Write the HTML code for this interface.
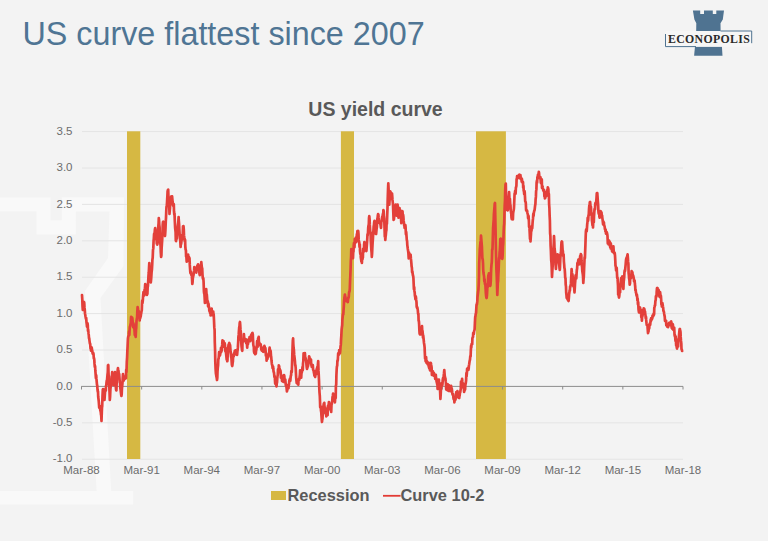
<!DOCTYPE html>
<html><head><meta charset="utf-8">
<style>
html,body{margin:0;padding:0;}
body{width:768px;height:541px;overflow:hidden;background:#f3f3f3;position:relative;font-family:"Liberation Sans",sans-serif;}
svg{position:absolute;left:0;top:0;}
</style></head><body>
<svg width="768" height="541" viewBox="0 0 768 541">
<rect x="0" y="0" width="768" height="541" fill="#f3f3f3"/>
<!-- watermark -->
<polygon points="-5,197.5 50.5,197.5 50.5,220.3 61.7,220.3 61.7,197.3 124,197.3 123.5,266 100.5,298 111.2,491 133.3,491 133.3,504.4 -5,504.4 -5,491 96.6,491 85,291 108,258 109.5,211.4 75.7,211.4 75.7,234.5 36.6,234.5 36.6,211.2 -5,211.2" fill="#f9f9f9"/>
<!-- title -->
<text x="22.5" y="44.7" font-family="Liberation Sans" font-size="32.3" fill="#4f7594">US curve flattest since 2007</text>
<!-- logo -->
<g fill="#4f7391">
<path d="M692.9 10.6 L700.2 10.6 L700.2 14.1 L704 14.1 L704 10.6 L712.8 10.6 L712.8 14.1 L716.3 14.1 L716.3 10.6 L724 10.6 L722.8 19.6 L720.5 23.2 L720.7 36 L696.1 36 L696.3 23.2 L694.4 19.6 Z"/>
<path d="M695 46.5 L721.9 46.5 L722.5 55.7 L694.1 55.7 Z"/>
</g>
<rect x="665.5" y="31" width="86.3" height="15.8" fill="#f6f6f6"/>
<path d="M665.5 34 L665.5 46.6 L696 46.6" fill="none" stroke="#4f7391" stroke-width="1"/>
<path d="M720.5 31 L751.7 31 L751.7 43.2" fill="none" stroke="#4f7391" stroke-width="1"/>
<text x="709.1" y="42.8" text-anchor="middle" font-family="Liberation Serif" font-weight="bold" font-size="11.8" letter-spacing="0.35" fill="#2a2a2a">ECONOPOLIS</text>
<!-- chart title -->
<text x="375.5" y="116" text-anchor="middle" font-family="Liberation Sans" font-weight="bold" font-size="19.5" fill="#595959">US yield curve</text>
<line x1="82" y1="131.60" x2="683" y2="131.60" stroke="#e4e4e4" stroke-width="1"/>
<line x1="82" y1="168.00" x2="683" y2="168.00" stroke="#e4e4e4" stroke-width="1"/>
<line x1="82" y1="204.40" x2="683" y2="204.40" stroke="#e4e4e4" stroke-width="1"/>
<line x1="82" y1="240.80" x2="683" y2="240.80" stroke="#e4e4e4" stroke-width="1"/>
<line x1="82" y1="277.20" x2="683" y2="277.20" stroke="#e4e4e4" stroke-width="1"/>
<line x1="82" y1="313.60" x2="683" y2="313.60" stroke="#e4e4e4" stroke-width="1"/>
<line x1="82" y1="350.00" x2="683" y2="350.00" stroke="#e4e4e4" stroke-width="1"/>
<line x1="82" y1="422.80" x2="683" y2="422.80" stroke="#e4e4e4" stroke-width="1"/>
<line x1="82" y1="459.20" x2="683" y2="459.20" stroke="#e4e4e4" stroke-width="1"/>

<!-- recession bars -->
<g fill="#d6b843">
<rect x="127" y="131.3" width="13.3" height="327.7"/>
<rect x="340.9" y="131.3" width="13.1" height="327.7"/>
<rect x="476" y="131.3" width="29.9" height="327.7"/>
</g>
<line x1="81.2" y1="386.4" x2="683" y2="386.4" stroke="#8c8c8c" stroke-width="1"/>
<line x1="81.50" y1="386.4" x2="81.50" y2="389.5" stroke="#8c8c8c" stroke-width="1"/>
<line x1="141.65" y1="386.4" x2="141.65" y2="389.5" stroke="#8c8c8c" stroke-width="1"/>
<line x1="201.80" y1="386.4" x2="201.80" y2="389.5" stroke="#8c8c8c" stroke-width="1"/>
<line x1="261.95" y1="386.4" x2="261.95" y2="389.5" stroke="#8c8c8c" stroke-width="1"/>
<line x1="322.10" y1="386.4" x2="322.10" y2="389.5" stroke="#8c8c8c" stroke-width="1"/>
<line x1="382.25" y1="386.4" x2="382.25" y2="389.5" stroke="#8c8c8c" stroke-width="1"/>
<line x1="442.40" y1="386.4" x2="442.40" y2="389.5" stroke="#8c8c8c" stroke-width="1"/>
<line x1="502.55" y1="386.4" x2="502.55" y2="389.5" stroke="#8c8c8c" stroke-width="1"/>
<line x1="562.70" y1="386.4" x2="562.70" y2="389.5" stroke="#8c8c8c" stroke-width="1"/>
<line x1="622.85" y1="386.4" x2="622.85" y2="389.5" stroke="#8c8c8c" stroke-width="1"/>
<line x1="683.00" y1="386.4" x2="683.00" y2="389.5" stroke="#8c8c8c" stroke-width="1"/>

<g font-family="Liberation Sans" font-size="11.5" fill="#6c6c6c">
<text x="72.5" y="134.80" text-anchor="end">3.5</text>
<text x="72.5" y="171.20" text-anchor="end">3.0</text>
<text x="72.5" y="207.60" text-anchor="end">2.5</text>
<text x="72.5" y="244.00" text-anchor="end">2.0</text>
<text x="72.5" y="280.40" text-anchor="end">1.5</text>
<text x="72.5" y="316.80" text-anchor="end">1.0</text>
<text x="72.5" y="353.20" text-anchor="end">0.5</text>
<text x="72.5" y="389.60" text-anchor="end">0.0</text>
<text x="72.5" y="426.00" text-anchor="end">-0.5</text>
<text x="72.5" y="462.40" text-anchor="end">-1.0</text>

<text x="81.50" y="473.8" text-anchor="middle">Mar-88</text>
<text x="141.65" y="473.8" text-anchor="middle">Mar-91</text>
<text x="201.80" y="473.8" text-anchor="middle">Mar-94</text>
<text x="261.95" y="473.8" text-anchor="middle">Mar-97</text>
<text x="322.10" y="473.8" text-anchor="middle">Mar-00</text>
<text x="382.25" y="473.8" text-anchor="middle">Mar-03</text>
<text x="442.40" y="473.8" text-anchor="middle">Mar-06</text>
<text x="502.55" y="473.8" text-anchor="middle">Mar-09</text>
<text x="562.70" y="473.8" text-anchor="middle">Mar-12</text>
<text x="622.85" y="473.8" text-anchor="middle">Mar-15</text>
<text x="683.00" y="473.8" text-anchor="middle">Mar-18</text>

</g>
<path d="M82.0 295.0 L82.3 299.5 L82.5 305.8 L82.8 310.0 L83.1 307.9 L83.4 305.3 L83.7 301.8 L84.0 302.0 L84.2 302.6 L84.5 307.7 L84.8 310.0 L85.0 313.4 L85.2 314.6 L85.5 316.5 L85.8 318.1 L86.0 319.0 L86.2 317.8 L86.5 322.4 L86.8 324.7 L87.0 326.6 L87.2 323.9 L87.5 323.2 L87.8 325.3 L88.0 331.0 L88.2 329.6 L88.5 333.4 L88.8 335.3 L89.0 338.3 L89.2 338.2 L89.5 340.9 L89.8 343.2 L90.0 344.0 L90.2 343.9 L90.5 348.5 L90.8 348.9 L91.0 350.7 L91.2 348.4 L91.5 347.3 L91.8 348.0 L92.0 350.0 L92.2 350.1 L92.5 352.8 L92.8 353.9 L93.0 353.6 L93.2 352.9 L93.5 353.9 L93.8 358.4 L94.0 358.0 L94.3 359.7 L94.5 363.4 L94.8 366.9 L95.1 366.1 L95.3 370.2 L95.6 374.0 L95.9 378.2 L96.2 375.4 L96.4 378.4 L96.7 381.5 L97.0 385.0 L97.2 385.1 L97.5 389.5 L97.8 391.8 L98.0 391.3 L98.2 396.8 L98.5 399.0 L98.8 401.9 L99.0 404.6 L99.2 407.7 L99.5 407.8 L99.8 408.1 L100.0 406.2 L100.2 409.8 L100.5 411.0 L100.8 412.4 L101.0 414.6 L101.2 415.3 L101.5 421.0 L101.8 412.1 L102.0 407.5 L102.2 406.2 L102.5 396.2 L102.8 389.7 L103.0 389.0 L103.2 389.0 L103.5 394.6 L103.8 396.6 L104.0 393.6 L104.2 391.8 L104.5 400.0 L104.8 395.2 L105.0 392.6 L105.2 389.4 L105.5 390.8 L105.8 390.6 L106.0 386.0 L106.3 385.1 L106.5 382.6 L106.8 380.5 L107.0 380.6 L107.3 377.5 L107.5 374.6 L107.8 372.1 L108.0 365.4 L108.3 365.0 L108.5 372.4 L108.8 379.4 L109.0 384.9 L109.3 385.6 L109.5 391.5 L109.8 400.0 L110.1 396.6 L110.4 389.1 L110.7 386.7 L111.0 385.0 L111.3 382.7 L111.6 376.4 L111.9 377.4 L112.2 372.0 L112.5 376.8 L112.7 378.0 L113.0 380.8 L113.2 384.2 L113.5 385.0 L113.8 384.0 L114.0 383.5 L114.2 378.6 L114.5 375.6 L114.8 375.9 L115.0 372.0 L115.3 377.4 L115.5 379.7 L115.8 386.7 L116.1 390.0 L116.4 390.4 L116.6 384.6 L116.9 378.3 L117.2 376.0 L117.5 373.3 L117.7 370.0 L118.0 368.0 L118.2 372.0 L118.5 370.6 L118.8 375.3 L119.0 373.5 L119.2 374.4 L119.5 378.6 L119.8 382.6 L120.0 382.0 L120.3 387.7 L120.6 389.7 L120.8 391.7 L121.1 394.2 L121.4 396.0 L121.7 394.0 L121.9 389.1 L122.2 385.8 L122.5 382.9 L122.7 378.4 L123.0 374.0 L123.2 376.4 L123.5 377.1 L123.8 380.6 L124.0 379.2 L124.2 377.2 L124.5 376.6 L124.8 377.3 L125.0 378.0 L125.2 378.7 L125.5 376.2 L125.8 375.9 L126.0 378.1 L126.2 369.9 L126.5 372.0 L126.8 361.6 L127.1 357.4 L127.3 352.3 L127.6 346.1 L127.9 339.0 L128.2 336.7 L128.4 336.6 L128.7 334.9 L129.0 331.6 L129.3 335.0 L129.5 331.7 L129.8 327.0 L130.1 326.5 L130.3 325.2 L130.6 323.8 L130.8 323.0 L131.1 316.9 L131.3 317.8 L131.6 320.8 L131.8 317.5 L132.1 317.6 L132.3 318.0 L132.6 320.9 L132.9 323.7 L133.2 327.2 L133.4 323.3 L133.7 325.0 L134.0 328.0 L134.3 328.1 L134.6 331.6 L134.8 335.0 L135.1 329.9 L135.4 335.6 L135.7 337.0 L136.0 329.9 L136.2 328.4 L136.5 321.1 L136.8 318.7 L137.1 317.4 L137.3 311.9 L137.6 307.0 L137.9 308.6 L138.1 310.8 L138.4 311.0 L138.7 311.1 L138.9 314.8 L139.2 316.2 L139.4 314.6 L139.7 320.4 L140.0 316.0 L140.2 318.3 L140.5 317.0 L140.8 315.8 L141.0 314.1 L141.2 313.4 L141.5 311.3 L141.8 310.2 L142.0 304.4 L142.2 300.7 L142.5 303.0 L142.8 300.6 L143.0 297.4 L143.2 294.9 L143.5 292.0 L143.8 295.1 L144.0 294.9 L144.2 295.4 L144.5 290.0 L144.8 288.8 L145.0 287.5 L145.2 284.0 L145.5 285.0 L145.8 286.7 L146.0 290.9 L146.3 288.8 L146.6 293.2 L146.9 294.9 L147.1 294.1 L147.4 294.0 L147.7 286.3 L147.9 286.3 L148.2 281.1 L148.5 275.3 L148.8 272.2 L149.0 268.4 L149.3 263.0 L149.6 270.2 L149.8 270.2 L150.1 276.4 L150.3 278.0 L150.6 281.8 L150.8 282.4 L151.1 279.3 L151.3 277.0 L151.6 272.1 L151.9 269.8 L152.2 264.6 L152.4 259.8 L152.7 257.8 L153.0 250.0 L153.3 248.4 L153.6 240.5 L153.8 239.0 L154.1 233.9 L154.4 235.3 L154.6 233.7 L154.9 229.6 L155.2 228.0 L155.5 229.6 L155.7 233.7 L156.0 235.3 L156.3 239.6 L156.6 240.1 L156.8 243.6 L157.1 243.0 L157.3 244.6 L157.6 242.9 L157.8 236.1 L158.1 234.4 L158.3 226.7 L158.6 223.1 L158.8 218.1 L159.1 221.0 L159.3 224.8 L159.6 227.2 L159.8 233.1 L160.1 237.9 L160.3 242.9 L160.6 246.5 L160.8 252.2 L161.1 257.0 L161.4 255.4 L161.6 248.8 L161.9 244.0 L162.2 240.0 L162.5 233.1 L162.7 225.0 L163.0 222.0 L163.2 221.7 L163.5 226.6 L163.8 224.5 L164.0 226.4 L164.2 231.5 L164.5 234.5 L164.8 235.2 L165.0 236.0 L165.2 233.6 L165.5 228.4 L165.8 220.8 L166.0 218.0 L166.3 210.0 L166.5 206.7 L166.8 206.2 L167.1 201.0 L167.4 195.7 L167.6 191.3 L167.9 190.0 L168.2 189.6 L168.4 195.6 L168.7 198.4 L169.0 204.9 L169.2 204.7 L169.5 214.0 L169.8 210.1 L170.0 208.0 L170.3 203.3 L170.5 205.4 L170.8 203.5 L171.0 197.7 L171.3 196.5 L171.5 197.3 L171.8 197.0 L172.1 196.3 L172.4 199.7 L172.6 201.9 L172.9 203.3 L173.2 203.8 L173.5 206.6 L173.8 204.0 L174.0 211.2 L174.3 214.7 L174.5 213.4 L174.8 220.8 L175.1 227.3 L175.3 229.5 L175.6 232.2 L175.8 240.5 L176.1 241.0 L176.3 236.9 L176.6 236.3 L176.8 238.7 L177.1 232.0 L177.3 230.7 L177.6 231.2 L177.8 226.3 L178.1 224.0 L178.3 222.3 L178.6 217.0 L178.8 220.4 L179.1 224.1 L179.3 228.7 L179.6 233.9 L179.8 236.6 L180.1 239.5 L180.3 241.2 L180.6 247.0 L180.9 243.4 L181.1 244.1 L181.4 241.9 L181.7 238.0 L181.9 235.1 L182.2 239.7 L182.4 238.0 L182.7 235.2 L183.0 226.4 L183.2 227.4 L183.5 226.0 L183.8 229.5 L184.0 235.4 L184.3 237.2 L184.6 238.5 L184.8 241.7 L185.1 239.8 L185.3 246.3 L185.6 249.5 L185.9 250.4 L186.1 256.4 L186.4 257.0 L186.7 261.7 L186.9 256.5 L187.2 255.4 L187.4 256.8 L187.7 257.3 L188.0 256.3 L188.2 254.7 L188.5 260.1 L188.7 260.6 L189.0 257.0 L189.3 258.4 L189.5 258.0 L189.8 264.9 L190.0 267.9 L190.3 272.1 L190.5 273.2 L190.8 271.3 L191.0 273.7 L191.3 275.0 L191.6 273.3 L191.8 276.0 L192.1 279.9 L192.3 284.0 L192.6 282.0 L192.8 278.4 L193.1 276.7 L193.3 275.9 L193.6 274.4 L193.8 273.0 L194.1 270.4 L194.3 267.0 L194.6 268.0 L194.8 270.6 L195.1 270.9 L195.3 271.0 L195.6 270.2 L195.8 269.9 L196.1 271.3 L196.3 272.6 L196.6 269.7 L196.9 268.2 L197.2 266.0 L197.5 265.4 L197.8 265.2 L198.1 264.3 L198.4 266.1 L198.7 265.5 L199.0 270.0 L199.2 270.7 L199.5 274.1 L199.8 275.1 L200.0 274.4 L200.2 272.8 L200.5 271.4 L200.8 266.7 L201.0 266.0 L201.3 262.2 L201.6 265.2 L201.9 268.0 L202.2 268.4 L202.5 274.8 L202.8 278.1 L203.1 279.1 L203.3 278.0 L203.6 282.2 L203.9 291.1 L204.1 293.2 L204.4 293.8 L204.6 296.9 L204.9 303.0 L205.2 299.7 L205.4 298.2 L205.7 295.3 L206.0 295.1 L206.2 289.0 L206.5 294.1 L206.8 294.5 L207.0 296.9 L207.3 301.3 L207.5 303.1 L207.8 301.0 L208.1 306.3 L208.3 303.3 L208.6 304.2 L208.8 307.0 L209.1 307.0 L209.3 310.3 L209.6 311.6 L209.8 310.5 L210.1 313.2 L210.3 311.0 L210.6 315.3 L210.9 314.7 L211.2 311.4 L211.4 310.2 L211.7 308.6 L211.9 315.2 L212.2 312.3 L212.4 313.7 L212.7 314.9 L212.9 314.0 L213.2 311.5 L213.4 313.4 L213.7 314.5 L214.0 320.2 L214.3 327.4 L214.6 330.0 L214.8 342.6 L215.1 351.0 L215.3 361.7 L215.6 369.0 L215.9 373.5 L216.2 375.0 L216.4 376.5 L216.7 377.8 L217.0 380.0 L217.3 377.9 L217.5 371.6 L217.8 367.5 L218.1 365.0 L218.3 359.1 L218.6 359.0 L218.9 355.6 L219.1 352.0 L219.4 352.4 L219.7 354.7 L220.0 355.4 L220.2 354.1 L220.5 353.0 L220.8 351.6 L221.0 347.8 L221.2 351.9 L221.5 350.7 L221.8 350.7 L222.0 346.3 L222.2 344.9 L222.5 340.3 L222.8 342.7 L223.0 342.0 L223.3 344.7 L223.5 341.2 L223.8 343.6 L224.1 346.7 L224.3 344.0 L224.6 343.0 L224.9 344.6 L225.1 346.8 L225.4 351.5 L225.7 348.1 L225.9 351.7 L226.2 354.6 L226.5 357.5 L226.7 359.6 L227.0 359.0 L227.3 361.2 L227.5 359.7 L227.8 353.2 L228.0 350.6 L228.3 347.4 L228.5 344.8 L228.8 344.6 L229.0 343.8 L229.3 343.0 L229.6 345.6 L229.8 344.3 L230.1 345.3 L230.4 349.3 L230.6 352.0 L230.9 354.2 L231.1 356.8 L231.4 357.8 L231.7 362.3 L231.9 364.8 L232.2 366.0 L232.4 365.1 L232.7 362.4 L232.9 361.4 L233.2 355.2 L233.4 355.0 L233.7 356.4 L233.9 353.3 L234.2 354.6 L234.4 354.6 L234.7 350.9 L234.9 350.7 L235.2 351.5 L235.5 350.4 L235.7 352.6 L236.0 354.3 L236.3 354.1 L236.6 352.6 L236.8 353.5 L237.1 355.0 L237.4 351.4 L237.6 350.2 L237.9 347.2 L238.2 342.1 L238.4 336.9 L238.7 334.7 L238.9 331.4 L239.2 327.5 L239.5 326.0 L239.7 323.0 L240.0 322.0 L240.2 324.7 L240.5 329.7 L240.8 332.0 L241.0 340.4 L241.2 341.1 L241.5 346.0 L241.8 348.2 L242.0 350.0 L242.3 350.8 L242.5 342.2 L242.8 340.0 L243.1 339.8 L243.4 339.2 L243.6 341.3 L243.9 334.0 L244.2 338.0 L244.4 339.8 L244.7 340.1 L244.9 341.0 L245.2 341.0 L245.4 340.1 L245.7 341.4 L245.9 339.3 L246.2 343.2 L246.4 341.1 L246.7 343.1 L246.9 344.0 L247.2 347.6 L247.4 344.4 L247.7 343.0 L248.0 344.2 L248.2 342.2 L248.5 339.3 L248.7 339.6 L249.0 340.1 L249.3 340.3 L249.5 337.1 L249.8 337.0 L250.1 339.8 L250.3 341.2 L250.6 338.3 L250.9 337.2 L251.2 335.0 L251.4 337.4 L251.7 334.2 L252.0 335.2 L252.2 333.1 L252.5 333.0 L252.8 334.3 L253.0 339.4 L253.3 344.6 L253.5 345.9 L253.8 346.7 L254.0 351.5 L254.3 353.0 L254.6 352.8 L254.8 352.4 L255.1 354.2 L255.3 354.0 L255.6 350.2 L255.8 353.6 L256.1 350.3 L256.4 349.8 L256.6 346.4 L256.9 345.5 L257.1 341.2 L257.4 345.8 L257.6 346.9 L257.9 341.9 L258.1 338.4 L258.4 341.0 L258.7 336.8 L258.9 342.4 L259.2 342.3 L259.4 343.4 L259.7 343.8 L259.9 344.8 L260.2 343.7 L260.5 345.8 L260.7 344.3 L261.0 346.6 L261.2 348.9 L261.5 350.0 L261.8 350.6 L262.0 349.7 L262.3 347.8 L262.5 348.9 L262.8 348.1 L263.1 351.7 L263.3 351.9 L263.6 350.1 L263.8 348.4 L264.1 347.1 L264.4 345.9 L264.6 346.4 L264.9 347.8 L265.1 348.9 L265.4 348.0 L265.6 350.9 L265.9 355.7 L266.1 353.2 L266.4 354.1 L266.6 360.7 L266.9 355.5 L267.1 356.2 L267.4 359.0 L267.6 357.7 L267.9 357.3 L268.1 357.2 L268.4 355.4 L268.6 355.2 L268.9 354.1 L269.1 354.5 L269.4 348.9 L269.6 347.7 L269.9 350.0 L270.2 350.1 L270.4 350.5 L270.7 351.5 L271.0 356.2 L271.2 356.8 L271.5 360.5 L271.8 363.4 L272.0 364.8 L272.3 365.0 L272.6 368.1 L272.8 368.3 L273.1 366.5 L273.3 369.0 L273.6 371.9 L273.9 372.1 L274.1 373.7 L274.4 376.8 L274.6 375.8 L274.9 379.0 L275.2 383.7 L275.4 381.9 L275.7 383.1 L275.9 383.7 L276.2 385.0 L276.5 386.4 L276.7 383.7 L277.0 382.7 L277.3 378.2 L277.5 376.4 L277.8 374.6 L278.0 369.3 L278.3 372.3 L278.6 371.8 L278.8 365.4 L279.1 366.0 L279.4 367.7 L279.6 368.6 L279.9 370.9 L280.2 372.6 L280.4 370.4 L280.7 372.5 L280.9 377.7 L281.2 376.8 L281.5 376.2 L281.7 375.9 L282.0 381.0 L282.2 375.9 L282.5 378.0 L282.8 381.4 L283.0 380.2 L283.2 378.8 L283.5 381.8 L283.8 377.3 L284.0 375.0 L284.3 375.9 L284.5 378.8 L284.8 381.0 L285.1 379.7 L285.3 379.5 L285.6 383.1 L285.8 385.5 L286.1 384.4 L286.4 386.8 L286.6 388.1 L286.9 391.5 L287.2 390.3 L287.4 389.0 L287.7 387.8 L288.0 386.1 L288.2 387.5 L288.5 388.3 L288.7 384.6 L289.0 384.6 L289.3 380.9 L289.5 380.1 L289.8 379.0 L290.1 379.6 L290.3 381.0 L290.6 377.5 L290.8 375.9 L291.1 375.2 L291.3 371.1 L291.6 371.6 L291.8 372.0 L292.1 362.2 L292.3 356.2 L292.6 346.4 L292.8 341.0 L293.1 338.4 L293.3 343.6 L293.6 348.0 L293.9 349.8 L294.2 354.9 L294.4 356.4 L294.7 359.0 L294.9 360.8 L295.2 365.3 L295.4 365.0 L295.7 368.2 L295.9 372.5 L296.2 378.0 L296.4 380.2 L296.7 383.0 L297.0 383.2 L297.2 380.9 L297.5 381.5 L297.8 384.2 L298.0 380.6 L298.3 384.6 L298.5 380.3 L298.8 379.3 L299.1 378.7 L299.3 379.9 L299.6 377.0 L299.9 374.8 L300.1 370.3 L300.4 373.1 L300.7 374.3 L300.9 374.2 L301.2 377.7 L301.4 374.1 L301.7 372.0 L302.0 371.8 L302.2 370.1 L302.5 367.0 L302.8 369.9 L303.0 363.6 L303.3 361.5 L303.6 353.4 L303.8 357.2 L304.1 355.9 L304.4 357.1 L304.6 359.3 L304.9 353.0 L305.2 357.4 L305.4 357.7 L305.7 358.3 L305.9 359.0 L306.2 360.7 L306.5 365.1 L306.7 367.1 L307.0 369.0 L307.3 367.9 L307.5 366.1 L307.8 366.7 L308.1 365.5 L308.3 363.0 L308.6 362.6 L308.9 360.2 L309.1 356.3 L309.4 357.0 L309.7 359.7 L309.9 360.5 L310.2 358.5 L310.5 361.9 L310.7 362.6 L311.0 359.5 L311.2 364.8 L311.5 365.2 L311.8 367.0 L312.0 366.9 L312.3 366.0 L312.6 367.6 L312.8 365.2 L313.1 369.5 L313.4 370.3 L313.6 370.6 L313.9 372.5 L314.1 373.4 L314.4 375.6 L314.7 375.0 L314.9 375.9 L315.2 377.0 L315.4 371.4 L315.7 371.3 L315.9 372.9 L316.2 374.3 L316.4 370.9 L316.7 369.0 L316.9 370.9 L317.2 367.3 L317.4 366.9 L317.7 368.0 L317.9 364.6 L318.2 361.0 L318.5 370.9 L318.7 374.0 L319.0 380.5 L319.2 386.3 L319.5 392.5 L319.8 395.8 L320.0 400.8 L320.2 407.3 L320.5 406.0 L320.8 406.9 L321.0 411.0 L321.2 411.5 L321.5 416.2 L321.8 420.3 L322.0 422.0 L322.2 419.8 L322.5 418.6 L322.8 412.7 L323.0 413.2 L323.2 407.8 L323.5 405.6 L323.8 403.7 L324.0 404.0 L324.3 402.9 L324.5 406.7 L324.8 407.5 L325.0 407.5 L325.3 409.8 L325.6 413.6 L325.8 412.8 L326.1 413.6 L326.3 416.3 L326.6 414.0 L326.9 414.8 L327.1 409.9 L327.4 414.2 L327.6 415.2 L327.9 406.6 L328.1 405.6 L328.4 405.3 L328.6 405.6 L328.9 402.0 L329.2 405.6 L329.4 404.9 L329.7 403.6 L329.9 405.8 L330.2 409.3 L330.5 407.4 L330.7 407.1 L331.0 409.5 L331.2 412.0 L331.5 404.8 L331.8 403.9 L332.0 401.7 L332.3 401.1 L332.5 397.1 L332.8 396.0 L333.1 393.7 L333.3 394.3 L333.6 395.4 L333.9 394.8 L334.1 396.0 L334.4 398.1 L334.6 400.2 L334.9 402.3 L335.2 398.5 L335.4 397.4 L335.7 398.0 L335.9 385.6 L336.2 384.7 L336.4 375.4 L336.7 369.0 L336.9 366.5 L337.2 365.8 L337.4 360.7 L337.7 360.8 L337.9 358.8 L338.2 353.3 L338.4 353.7 L338.7 353.0 L339.0 354.7 L339.2 350.1 L339.5 353.2 L339.7 353.5 L340.0 353.0 L340.3 350.4 L340.5 346.8 L340.8 344.9 L341.1 338.9 L341.3 336.2 L341.6 330.0 L341.9 327.2 L342.2 325.2 L342.4 319.6 L342.7 316.6 L343.0 314.0 L343.3 314.4 L343.5 310.9 L343.8 306.6 L344.1 301.0 L344.4 297.6 L344.6 296.4 L344.9 294.5 L345.2 296.6 L345.4 297.4 L345.7 298.4 L346.0 298.1 L346.2 301.0 L346.5 299.4 L346.7 298.6 L347.0 301.4 L347.3 301.5 L347.5 301.2 L347.8 302.0 L348.1 299.2 L348.3 297.6 L348.6 297.8 L348.8 296.5 L349.1 292.0 L349.3 292.2 L349.6 290.9 L349.8 289.0 L350.1 280.5 L350.3 276.3 L350.6 268.8 L350.8 261.5 L351.1 256.9 L351.3 249.0 L351.6 253.8 L351.9 252.4 L352.1 254.8 L352.4 254.1 L352.7 257.0 L353.0 258.2 L353.2 252.4 L353.5 251.5 L353.7 246.0 L354.0 243.0 L354.3 244.1 L354.5 247.2 L354.8 238.9 L355.0 238.7 L355.3 240.2 L355.6 239.5 L355.8 237.7 L356.1 242.2 L356.3 240.0 L356.6 237.5 L356.9 234.1 L357.1 235.9 L357.4 231.1 L357.7 233.9 L357.9 231.3 L358.2 231.0 L358.5 234.1 L358.7 239.9 L359.0 242.1 L359.2 241.8 L359.5 247.0 L359.8 244.4 L360.0 250.7 L360.3 253.9 L360.6 253.3 L360.8 257.2 L361.1 259.3 L361.4 261.6 L361.6 257.8 L361.9 263.0 L362.1 258.6 L362.4 259.4 L362.6 258.5 L362.9 257.3 L363.1 248.9 L363.4 248.9 L363.6 248.6 L363.9 251.4 L364.1 244.8 L364.4 242.0 L364.6 242.8 L364.9 244.2 L365.1 247.1 L365.4 246.5 L365.6 249.9 L365.9 248.3 L366.1 250.2 L366.4 251.0 L366.7 246.9 L366.9 244.5 L367.2 240.0 L367.5 234.4 L367.7 235.3 L368.0 232.6 L368.2 228.0 L368.5 225.6 L368.8 224.4 L369.0 218.2 L369.3 216.0 L369.6 219.4 L369.8 224.9 L370.1 229.7 L370.3 232.4 L370.6 232.3 L370.8 241.0 L371.1 245.6 L371.3 249.3 L371.6 252.6 L371.8 257.0 L372.1 253.5 L372.3 248.6 L372.6 242.9 L372.9 238.8 L373.1 235.0 L373.4 231.2 L373.7 226.2 L373.9 225.4 L374.2 222.0 L374.5 220.8 L374.7 225.3 L375.0 225.1 L375.3 228.5 L375.6 233.1 L375.8 234.0 L376.1 234.0 L376.4 230.9 L376.6 228.8 L376.9 226.7 L377.1 220.6 L377.4 218.6 L377.6 217.9 L377.9 215.0 L378.1 214.0 L378.4 214.7 L378.6 217.7 L378.9 219.9 L379.2 222.0 L379.4 223.0 L379.7 222.4 L379.9 223.2 L380.2 223.8 L380.5 224.6 L380.7 226.0 L381.0 228.0 L381.3 222.2 L381.5 221.4 L381.8 220.7 L382.1 217.4 L382.3 216.6 L382.6 216.4 L382.9 213.8 L383.1 216.1 L383.4 210.0 L383.7 211.1 L383.9 216.6 L384.2 218.2 L384.5 226.8 L384.8 236.6 L385.0 233.3 L385.3 240.0 L385.6 236.4 L385.8 235.2 L386.1 231.7 L386.4 230.3 L386.6 222.7 L386.9 224.0 L387.2 215.6 L387.5 208.3 L387.7 199.9 L388.0 190.4 L388.3 183.3 L388.6 189.4 L388.8 193.4 L389.1 199.4 L389.3 204.6 L389.6 199.4 L389.9 191.0 L390.2 191.7 L390.5 191.6 L390.8 195.7 L391.1 199.0 L391.4 198.2 L391.7 194.1 L392.0 193.5 L392.2 195.6 L392.5 199.9 L392.8 202.6 L393.0 204.6 L393.3 212.4 L393.6 219.9 L393.9 219.4 L394.2 216.5 L394.5 208.4 L394.8 208.0 L395.1 206.9 L395.4 208.8 L395.7 204.6 L395.9 210.8 L396.2 213.5 L396.4 213.3 L396.7 215.7 L397.0 210.8 L397.3 209.5 L397.6 204.6 L397.9 207.7 L398.2 209.0 L398.5 217.6 L398.8 211.1 L399.0 215.7 L399.2 215.7 L399.5 208.0 L399.8 210.6 L400.1 209.8 L400.4 212.0 L400.7 215.8 L401.0 217.9 L401.3 223.1 L401.6 221.3 L401.9 216.5 L402.2 212.0 L402.5 211.2 L402.8 215.6 L403.1 214.8 L403.4 217.0 L403.6 220.2 L403.9 222.6 L404.1 225.0 L404.4 225.8 L404.6 228.0 L404.9 227.8 L405.1 226.0 L405.4 225.1 L405.6 227.2 L405.9 234.3 L406.2 231.8 L406.5 235.8 L406.8 240.0 L407.1 241.2 L407.3 245.1 L407.6 247.3 L407.8 249.0 L408.1 250.8 L408.4 253.1 L408.7 258.3 L409.0 252.5 L409.2 254.3 L409.5 256.2 L409.8 257.0 L410.1 255.8 L410.3 254.9 L410.6 254.6 L410.9 258.7 L411.1 260.3 L411.4 263.7 L411.6 266.3 L411.9 268.0 L412.1 272.3 L412.4 271.3 L412.7 274.1 L412.9 275.3 L413.2 276.2 L413.4 277.8 L413.7 284.4 L413.9 289.2 L414.2 287.0 L414.4 290.9 L414.7 292.5 L414.9 295.4 L415.2 296.9 L415.4 299.2 L415.7 296.3 L415.9 296.9 L416.2 300.0 L416.5 302.1 L416.7 306.9 L417.0 307.7 L417.3 307.1 L417.6 308.9 L417.8 310.1 L418.1 314.0 L418.4 313.8 L418.6 320.7 L418.9 321.1 L419.1 323.8 L419.4 330.7 L419.6 333.5 L419.9 334.4 L420.1 334.0 L420.4 333.1 L420.6 332.7 L420.9 334.3 L421.2 332.5 L421.5 332.4 L421.7 329.4 L422.0 326.0 L422.2 330.3 L422.5 330.9 L422.8 333.6 L423.0 337.7 L423.2 335.4 L423.5 338.0 L423.8 341.0 L424.0 343.0 L424.3 344.7 L424.6 347.4 L424.8 352.4 L425.1 358.7 L425.4 357.0 L425.6 361.2 L425.9 360.7 L426.1 357.1 L426.4 362.6 L426.6 361.9 L426.9 361.0 L427.3 363.0 L427.6 364.3 L427.8 362.3 L428.1 363.8 L428.3 362.7 L428.6 364.8 L428.8 366.9 L429.1 367.4 L429.3 368.5 L429.6 367.0 L429.8 369.0 L430.1 370.4 L430.4 367.2 L430.7 362.9 L431.0 363.6 L431.2 365.0 L431.6 367.3 L431.9 375.0 L432.1 371.4 L432.4 372.1 L432.6 373.6 L432.9 371.3 L433.1 372.1 L433.4 375.5 L433.6 375.6 L433.9 373.0 L434.2 374.8 L434.4 375.5 L434.7 375.9 L435.0 376.6 L435.2 379.0 L435.5 379.0 L435.8 374.9 L436.0 378.0 L436.3 378.3 L436.6 382.0 L436.8 381.8 L437.1 384.0 L437.4 384.0 L437.6 388.9 L437.9 385.1 L438.1 383.2 L438.4 381.9 L438.6 379.5 L438.9 379.5 L439.1 387.0 L439.4 386.6 L439.6 389.1 L439.9 389.1 L440.1 391.1 L440.4 399.0 L440.7 394.3 L440.9 390.3 L441.2 387.5 L441.4 385.9 L441.7 383.0 L442.0 384.3 L442.2 385.6 L442.5 383.7 L442.7 380.4 L443.0 378.2 L443.3 379.6 L443.5 379.0 L443.8 374.5 L444.0 373.2 L444.3 370.0 L444.6 374.3 L444.8 376.4 L445.1 377.8 L445.4 378.2 L445.7 381.4 L445.9 382.4 L446.2 389.5 L446.5 389.3 L446.7 389.8 L447.0 386.3 L447.2 389.6 L447.5 390.0 L447.8 384.3 L448.0 388.8 L448.3 388.7 L448.5 391.0 L448.8 385.0 L449.1 385.9 L449.3 387.4 L449.6 388.3 L449.8 388.5 L450.1 388.9 L450.4 391.2 L450.6 387.5 L450.9 386.5 L451.1 385.9 L451.4 391.0 L451.7 388.3 L451.9 389.5 L452.2 392.4 L452.4 393.9 L452.7 394.6 L452.9 393.9 L453.2 394.3 L453.4 397.7 L453.7 399.3 L453.9 399.2 L454.2 398.6 L454.4 402.4 L454.7 400.0 L455.0 399.2 L455.2 399.2 L455.5 399.6 L455.8 396.4 L456.1 396.4 L456.3 392.0 L456.6 392.0 L456.9 394.0 L457.1 394.3 L457.4 391.2 L457.6 394.4 L457.9 393.2 L458.2 397.3 L458.4 395.7 L458.7 396.2 L458.9 397.7 L459.2 398.0 L459.5 395.9 L459.7 395.1 L460.0 392.2 L460.2 392.5 L460.5 390.4 L460.8 389.0 L461.0 381.6 L461.3 384.9 L461.5 383.5 L461.8 382.0 L462.1 378.9 L462.3 381.4 L462.6 383.6 L462.8 386.2 L463.1 383.4 L463.3 387.6 L463.6 386.5 L463.8 386.0 L464.1 392.0 L464.3 389.7 L464.6 390.6 L464.8 389.3 L465.1 389.5 L465.4 384.2 L465.6 384.1 L465.9 382.0 L466.1 380.6 L466.4 373.0 L466.6 376.5 L466.9 373.0 L467.1 368.9 L467.4 368.7 L467.6 368.4 L467.9 367.8 L468.1 370.0 L468.4 370.0 L468.7 368.5 L468.9 365.7 L469.2 364.2 L469.5 361.8 L469.8 360.3 L470.0 359.7 L470.3 356.0 L470.6 356.4 L470.8 351.2 L471.1 345.8 L471.3 347.7 L471.6 344.0 L471.9 343.7 L472.2 344.2 L472.4 338.3 L472.7 337.4 L473.0 337.0 L473.2 333.2 L473.5 332.6 L473.8 334.0 L474.1 331.3 L474.3 330.5 L474.6 329.7 L474.9 323.0 L475.2 317.1 L475.4 316.6 L475.7 314.0 L476.0 313.3 L476.2 310.4 L476.5 304.7 L476.8 304.8 L477.0 303.7 L477.3 301.4 L477.5 297.0 L477.8 294.5 L478.1 292.0 L478.4 290.1 L478.7 285.0 L479.0 276.0 L479.2 263.5 L479.5 257.1 L479.8 249.5 L480.1 246.3 L480.4 242.7 L480.7 240.9 L481.0 235.5 L481.3 239.2 L481.6 243.1 L481.9 246.5 L482.1 251.9 L482.4 258.7 L482.7 259.0 L483.0 263.1 L483.2 269.5 L483.5 273.0 L483.8 274.7 L484.1 276.6 L484.3 281.3 L484.6 279.0 L484.9 283.6 L485.1 284.6 L485.4 284.4 L485.6 288.6 L485.9 293.6 L486.1 295.7 L486.4 297.7 L486.6 298.0 L486.9 295.8 L487.1 292.9 L487.4 286.9 L487.6 287.3 L487.9 283.2 L488.1 278.3 L488.4 275.2 L488.6 275.0 L488.9 273.4 L489.1 278.1 L489.4 281.5 L489.7 279.1 L490.0 283.2 L490.2 285.9 L490.5 285.0 L490.8 280.6 L491.0 273.1 L491.2 268.7 L491.5 264.5 L491.8 262.1 L492.0 257.3 L492.2 249.3 L492.5 249.5 L492.8 239.0 L493.1 228.3 L493.4 223.6 L493.7 220.0 L493.9 214.2 L494.2 210.7 L494.5 206.8 L494.7 203.8 L495.0 203.0 L495.3 217.5 L495.6 231.8 L495.8 245.0 L496.1 257.6 L496.4 269.0 L496.7 275.5 L497.0 284.2 L497.3 295.0 L497.6 288.3 L497.8 283.0 L498.1 281.0 L498.3 275.3 L498.6 270.2 L498.8 264.8 L499.1 257.8 L499.3 259.0 L499.6 252.3 L499.8 250.8 L500.1 245.3 L500.3 239.0 L500.6 240.5 L500.8 238.6 L501.1 244.8 L501.4 251.4 L501.7 254.2 L501.9 258.4 L502.2 258.8 L502.4 258.5 L502.7 254.3 L502.9 246.9 L503.2 243.9 L503.4 239.7 L503.7 230.8 L503.9 226.4 L504.2 223.6 L504.5 212.1 L504.7 205.9 L505.0 200.3 L505.2 190.3 L505.5 184.5 L505.8 183.6 L506.0 193.0 L506.3 198.0 L506.6 204.8 L506.8 204.8 L507.1 210.0 L507.4 209.4 L507.6 210.5 L507.9 209.7 L508.1 203.8 L508.4 200.7 L508.6 197.2 L508.9 196.6 L509.1 192.0 L509.4 198.1 L509.6 199.5 L509.9 198.8 L510.2 204.0 L510.5 205.6 L510.7 210.1 L511.0 212.0 L511.3 214.0 L511.5 217.7 L511.8 219.1 L512.1 217.2 L512.3 218.3 L512.6 218.0 L512.9 219.5 L513.1 213.7 L513.4 211.4 L513.6 210.4 L513.9 208.7 L514.1 205.1 L514.4 198.2 L514.6 193.6 L514.9 194.0 L515.1 191.1 L515.4 190.5 L515.6 193.6 L515.9 187.4 L516.1 187.3 L516.4 185.7 L516.6 179.0 L516.9 179.0 L517.1 176.1 L517.4 177.5 L517.6 176.7 L517.9 176.8 L518.1 178.0 L518.4 175.9 L518.6 177.2 L518.9 175.6 L519.1 174.8 L519.4 176.4 L519.6 174.8 L519.9 175.6 L520.1 178.5 L520.4 175.0 L520.7 177.6 L520.9 177.3 L521.2 179.4 L521.4 178.7 L521.7 181.7 L521.9 178.9 L522.2 181.7 L522.4 181.3 L522.7 183.0 L523.0 182.1 L523.2 187.8 L523.5 185.9 L523.7 190.8 L524.0 191.6 L524.2 194.1 L524.5 191.1 L524.7 192.0 L525.0 197.1 L525.2 201.3 L525.5 201.6 L525.8 203.0 L526.1 210.1 L526.3 210.4 L526.6 210.0 L526.9 211.4 L527.1 210.6 L527.4 212.7 L527.6 213.9 L527.9 214.5 L528.1 218.3 L528.4 216.5 L528.6 216.0 L528.9 221.2 L529.1 227.0 L529.4 226.8 L529.7 232.6 L530.0 238.9 L530.2 237.5 L530.5 241.5 L530.8 236.9 L531.0 233.9 L531.2 229.6 L531.5 231.0 L531.8 226.0 L532.0 227.1 L532.2 228.4 L532.5 224.0 L532.8 220.1 L533.0 218.7 L533.3 213.9 L533.6 215.9 L533.8 213.0 L534.1 211.6 L534.3 210.6 L534.6 210.2 L534.9 207.3 L535.1 205.7 L535.4 204.0 L535.6 199.5 L535.9 196.9 L536.1 191.4 L536.4 189.4 L536.6 182.7 L536.9 180.6 L537.1 182.6 L537.4 177.0 L537.7 178.1 L537.9 174.8 L538.2 176.1 L538.5 174.3 L538.8 171.9 L539.0 172.5 L539.3 176.0 L539.5 176.5 L539.8 178.3 L540.0 178.7 L540.3 177.7 L540.5 177.3 L540.8 182.4 L541.0 183.2 L541.3 181.6 L541.5 179.0 L541.8 179.6 L542.0 188.0 L542.3 186.5 L542.6 186.4 L542.8 187.9 L543.1 189.7 L543.4 190.4 L543.6 191.0 L543.9 189.7 L544.1 190.2 L544.4 196.4 L544.7 195.2 L544.9 198.3 L545.2 198.0 L545.5 194.4 L545.7 194.3 L546.0 194.8 L546.3 196.2 L546.5 192.1 L546.8 193.1 L547.0 192.7 L547.3 189.8 L547.6 190.3 L547.8 187.4 L548.1 188.0 L548.4 189.6 L548.6 194.8 L548.9 194.0 L549.1 204.0 L549.4 208.0 L549.6 214.9 L549.9 221.0 L550.1 233.0 L550.4 236.1 L550.6 245.5 L550.9 251.0 L551.2 260.2 L551.5 263.2 L551.7 267.5 L552.0 277.0 L552.2 273.3 L552.5 268.3 L552.8 264.3 L553.0 256.2 L553.2 252.8 L553.5 247.5 L553.8 243.0 L554.0 236.0 L554.3 241.7 L554.5 248.3 L554.8 250.3 L555.1 253.0 L555.4 255.7 L555.6 264.7 L555.9 269.0 L556.1 266.0 L556.4 262.8 L556.6 260.5 L556.9 259.5 L557.1 256.5 L557.4 256.0 L557.6 254.3 L557.9 255.0 L558.2 254.8 L558.4 256.2 L558.7 260.0 L559.0 261.9 L559.3 265.1 L559.5 268.1 L559.8 270.0 L560.0 267.2 L560.3 258.9 L560.5 256.2 L560.8 252.6 L561.0 252.2 L561.3 245.5 L561.5 242.1 L561.8 241.5 L562.1 241.9 L562.3 244.8 L562.6 250.1 L562.9 251.2 L563.1 255.8 L563.4 254.5 L563.6 254.4 L563.9 261.6 L564.2 264.9 L564.4 267.9 L564.7 269.0 L565.0 273.6 L565.2 277.7 L565.5 278.2 L565.7 284.5 L566.0 286.6 L566.2 292.5 L566.5 295.4 L566.7 298.0 L567.0 295.0 L567.2 294.6 L567.5 299.4 L567.8 299.5 L568.1 299.2 L568.3 300.6 L568.6 301.0 L568.9 297.5 L569.1 294.2 L569.4 292.5 L569.6 290.3 L569.9 290.7 L570.1 286.6 L570.4 286.9 L570.6 285.6 L570.9 283.4 L571.1 279.6 L571.4 274.6 L571.6 269.0 L571.9 272.9 L572.1 273.9 L572.4 274.2 L572.7 276.8 L572.9 278.0 L573.2 284.3 L573.4 286.3 L573.7 286.3 L574.0 284.5 L574.2 288.4 L574.5 292.5 L574.8 288.0 L575.0 284.1 L575.3 280.6 L575.6 275.4 L575.8 277.0 L576.1 275.2 L576.3 278.3 L576.6 273.3 L576.9 269.2 L577.1 269.0 L577.4 263.0 L577.6 264.4 L577.9 263.3 L578.1 261.4 L578.4 259.7 L578.6 262.9 L578.9 263.2 L579.1 264.5 L579.4 259.0 L579.7 260.2 L579.9 258.8 L580.2 256.0 L580.5 258.0 L580.8 254.0 L581.0 255.6 L581.3 255.0 L581.5 260.7 L581.8 265.9 L582.0 265.6 L582.3 271.2 L582.5 272.2 L582.8 274.3 L583.0 276.0 L583.3 283.0 L583.6 278.7 L583.8 276.9 L584.1 269.0 L584.4 262.3 L584.6 257.4 L584.9 258.2 L585.1 253.1 L585.4 245.1 L585.7 236.1 L585.9 231.5 L586.2 229.5 L586.5 229.2 L586.7 231.3 L587.0 227.5 L587.2 224.2 L587.5 222.2 L587.7 217.9 L588.0 220.8 L588.2 220.0 L588.5 215.1 L588.7 215.8 L589.0 209.3 L589.3 205.7 L589.6 205.7 L589.8 202.3 L590.1 202.0 L590.4 204.8 L590.6 206.9 L590.9 206.7 L591.2 211.4 L591.4 215.3 L591.7 213.0 L591.9 220.4 L592.2 222.6 L592.5 225.4 L592.7 222.7 L593.0 227.5 L593.2 222.7 L593.5 221.2 L593.8 222.2 L594.0 216.5 L594.2 213.8 L594.5 209.0 L594.8 209.2 L595.0 209.3 L595.2 204.3 L595.5 202.8 L595.8 203.3 L596.0 204.5 L596.2 202.2 L596.5 198.1 L596.8 193.2 L597.0 193.0 L597.3 193.1 L597.5 196.2 L597.8 200.9 L598.1 204.4 L598.4 211.0 L598.6 213.1 L598.9 214.0 L599.2 213.1 L599.4 216.9 L599.7 217.7 L600.0 216.5 L600.2 214.4 L600.5 211.1 L600.7 211.2 L601.0 215.3 L601.3 213.9 L601.5 212.3 L601.8 216.0 L602.1 215.5 L602.3 217.6 L602.6 219.8 L602.8 221.5 L603.1 224.3 L603.4 221.6 L603.6 224.4 L603.9 222.3 L604.1 225.0 L604.4 225.8 L604.7 226.8 L604.9 229.2 L605.2 228.9 L605.4 231.4 L605.7 229.5 L606.0 233.7 L606.2 233.4 L606.5 232.4 L606.7 232.1 L607.0 232.9 L607.3 234.5 L607.5 236.1 L607.8 243.5 L608.0 243.0 L608.3 240.0 L608.6 244.3 L608.8 241.5 L609.1 240.7 L609.3 241.4 L609.6 243.2 L609.8 241.9 L610.1 247.0 L610.3 245.5 L610.6 248.4 L610.8 243.3 L611.1 245.8 L611.3 248.0 L611.6 249.0 L611.9 249.7 L612.1 251.3 L612.4 251.7 L612.6 251.9 L612.9 248.2 L613.2 248.9 L613.4 246.3 L613.7 251.1 L614.0 253.2 L614.2 253.5 L614.5 252.6 L614.7 252.9 L615.0 255.5 L615.3 260.9 L615.5 265.9 L615.8 266.2 L616.1 270.5 L616.4 268.2 L616.7 267.8 L616.9 272.0 L617.2 278.0 L617.5 277.4 L617.7 280.8 L618.0 285.4 L618.2 294.7 L618.5 293.4 L618.7 295.6 L619.0 297.6 L619.3 296.1 L619.5 293.1 L619.8 292.3 L620.1 292.4 L620.4 285.2 L620.7 283.1 L620.9 280.0 L621.2 278.0 L621.5 279.9 L621.8 277.9 L622.0 277.2 L622.3 276.4 L622.6 282.4 L622.9 285.4 L623.1 287.3 L623.4 289.0 L623.7 281.2 L623.9 280.0 L624.2 277.2 L624.4 273.0 L624.7 270.5 L625.0 271.0 L625.2 269.5 L625.5 266.1 L625.7 264.1 L626.0 260.0 L626.3 258.5 L626.5 258.0 L626.8 257.2 L627.1 257.4 L627.3 255.7 L627.6 254.4 L627.9 258.0 L628.1 261.4 L628.4 263.9 L628.6 272.8 L628.9 275.6 L629.1 278.7 L629.4 280.0 L629.7 284.6 L630.0 283.4 L630.2 276.3 L630.5 276.8 L630.8 276.7 L631.0 278.2 L631.3 277.2 L631.6 271.0 L631.9 276.1 L632.1 272.7 L632.4 272.1 L632.6 274.6 L632.9 276.8 L633.1 275.4 L633.4 276.4 L633.6 277.4 L633.9 279.3 L634.1 281.3 L634.4 281.6 L634.6 280.3 L634.9 284.0 L635.2 286.5 L635.4 290.5 L635.7 289.8 L635.9 292.4 L636.2 293.3 L636.4 294.8 L636.7 295.9 L636.9 294.7 L637.2 297.4 L637.4 300.3 L637.7 298.7 L637.9 304.3 L638.2 302.0 L638.5 309.0 L638.7 310.7 L639.0 312.4 L639.2 311.3 L639.5 309.0 L639.8 307.9 L640.0 307.5 L640.3 309.6 L640.6 310.9 L640.8 313.5 L641.1 309.9 L641.3 317.3 L641.6 315.4 L641.9 320.7 L642.1 317.0 L642.4 316.2 L642.6 315.1 L642.9 313.8 L643.2 311.8 L643.4 310.7 L643.7 308.4 L643.9 308.9 L644.2 308.7 L644.5 309.8 L644.7 312.0 L645.0 311.4 L645.2 313.6 L645.5 315.4 L645.7 318.2 L646.0 316.9 L646.2 319.9 L646.5 323.2 L646.7 324.8 L647.0 324.4 L647.2 324.6 L647.5 325.9 L647.7 329.2 L648.0 333.2 L648.2 331.0 L648.5 331.6 L648.7 328.8 L649.0 328.9 L649.2 328.3 L649.5 325.3 L649.7 323.7 L650.0 323.8 L650.2 324.9 L650.5 321.3 L650.7 319.5 L651.0 321.2 L651.2 318.1 L651.5 320.0 L651.8 318.3 L652.0 319.0 L652.3 318.2 L652.5 315.7 L652.8 316.0 L653.0 315.4 L653.3 316.2 L653.5 313.9 L653.8 315.0 L654.1 314.1 L654.3 307.8 L654.6 306.6 L654.9 305.2 L655.1 305.3 L655.4 301.0 L655.7 300.1 L655.9 296.3 L656.2 295.9 L656.5 296.5 L656.7 291.5 L657.0 288.0 L657.3 290.0 L657.5 288.0 L657.8 291.0 L658.0 293.3 L658.3 292.3 L658.6 289.8 L658.8 291.8 L659.1 294.6 L659.4 296.2 L659.6 296.7 L659.9 291.9 L660.1 292.1 L660.4 295.0 L660.7 297.9 L660.9 295.8 L661.2 300.1 L661.4 304.4 L661.7 304.9 L661.9 306.5 L662.2 305.0 L662.4 303.1 L662.7 305.0 L662.9 306.4 L663.2 308.0 L663.4 310.9 L663.7 311.0 L664.0 312.5 L664.2 313.9 L664.5 315.7 L664.7 316.3 L665.0 320.9 L665.3 321.0 L665.5 320.9 L665.8 320.9 L666.1 320.7 L666.3 325.1 L666.6 325.5 L666.8 323.8 L667.1 326.5 L667.4 324.4 L667.6 324.9 L667.9 324.4 L668.1 327.2 L668.4 323.9 L668.6 325.5 L668.9 325.5 L669.1 322.8 L669.4 323.8 L669.6 323.9 L669.9 325.0 L670.1 323.6 L670.4 324.0 L670.7 324.7 L670.9 321.6 L671.2 321.4 L671.4 325.2 L671.7 327.9 L671.9 327.2 L672.2 326.0 L672.4 328.9 L672.7 324.2 L672.9 324.6 L673.2 328.0 L673.4 329.8 L673.7 329.0 L674.0 329.0 L674.2 327.5 L674.5 334.2 L674.7 335.7 L675.0 335.1 L675.2 337.4 L675.5 341.0 L675.7 336.6 L676.0 342.6 L676.2 345.6 L676.5 342.2 L676.7 346.9 L677.0 348.6 L677.3 343.2 L677.5 345.5 L677.8 344.3 L678.1 346.5 L678.3 341.0 L678.6 338.6 L678.8 338.5 L679.1 334.3 L679.4 331.1 L679.6 329.3 L679.9 329.0 L680.2 330.9 L680.5 331.9 L680.7 336.9 L681.0 340.9 L681.3 343.4 L681.5 349.2 L681.8 349.4 L682.1 351.0" fill="none" stroke="#e3403a" stroke-width="2.7" stroke-linejoin="round" stroke-linecap="round"/>
<!-- legend -->
<rect x="271" y="491" width="15" height="9" fill="#d6b843"/>
<text x="287.5" y="501.2" font-family="Liberation Sans" font-weight="bold" font-size="16.4" fill="#595959">Recession</text>
<line x1="383" y1="495.8" x2="400.6" y2="495.8" stroke="#e23b34" stroke-width="1.8"/>
<text x="400.5" y="501.2" font-family="Liberation Sans" font-weight="bold" font-size="16.4" fill="#595959">Curve 10-2</text>
</svg>
</body></html>
